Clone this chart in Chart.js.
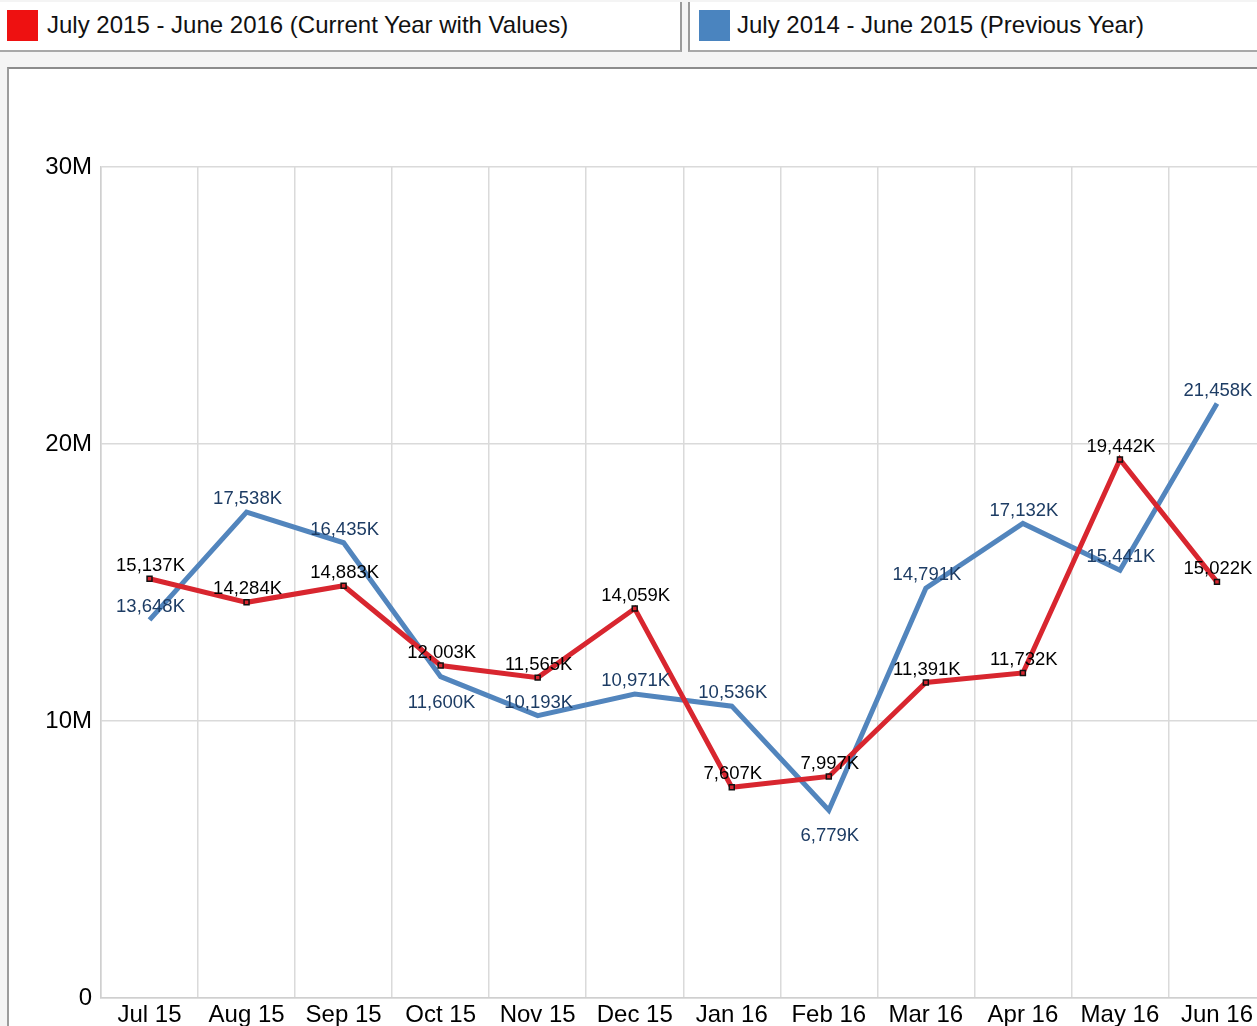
<!DOCTYPE html>
<html>
<head>
<meta charset="utf-8">
<title>Monthly totals</title>
<script src="https://cdn.jsdelivr.net/npm/chart.js@4"></script>
<style>
  html, body { margin: 0; padding: 0; overflow: hidden; background: #f4f4f4; }
  body { width: 1257px; height: 1026px; position: relative; font-family: "Liberation Sans", Arial, sans-serif; }
  .legend-item {
    position: absolute; top: 2px; height: 48px; background: #fff;
    border-right: 2px solid #9a9a9a; border-bottom: 2px solid #a8a8a8;
    box-sizing: content-box;
  }
  .legend-item .swatch { position: absolute; left: 7px; top: 8px; width: 31px; height: 31px; }
  .legend-item .text { position: absolute; left: 47px; top: 9px; font-size: 24px; color: #111; white-space: nowrap; }
  #lg1 { left: 0; width: 680px; }
  #lg2 { left: 688px; width: 580px; border-left: 2px solid #9a9a9a; border-right: none; }
  #lg2 .swatch { left: 9px; }
  #lg2 .text { left: 47px; }
  #panel {
    position: absolute; left: 7px; top: 67px; width: 1260px; height: 970px;
    background: #fff; border-top: 2px solid #8c8c8c; border-left: 2px solid #9c9c9c;
  }
  #wrap { position: absolute; left: 0; top: 0; width: 1271px; height: 1026px; }
</style>
</head>
<body>
<div id="lg1" class="legend-item"><div class="swatch" style="background:#ee1111"></div><div class="text">July 2015 - June 2016 (Current Year with Values)</div></div>
<div id="lg2" class="legend-item"><div class="swatch" style="background:#4a84bf"></div><div class="text">July 2014 - June 2015 (Previous Year)</div></div>
<div id="panel"></div>
<div id="wrap"><canvas id="lineChart"></canvas></div>
<script>
// Months on the x axis
const months = ["Jul 15", "Aug 15", "Sep 15", "Oct 15", "Nov 15", "Dec 15",
                "Jan 16", "Feb 16", "Mar 16", "Apr 16", "May 16", "Jun 16"];

// Values in thousands
const currentYear = [15137, 14284, 14883, 12003, 11565, 14059, 7607, 7997, 11391, 11732, 19442, 15022];
const previousYear = [13648, 17538, 16435, 11600, 10193, 10971, 10536, 6779, 14791, 17132, 15441, 21458];

const yTicks = [0, 10000, 20000, 30000];

const seriesNames = ["July 2015 - June 2016 (Current Year with Values)", "July 2014 - June 2015 (Previous Year)"];

const FONT = "'Liberation Sans', Arial, sans-serif";

// draws "15,137K" style labels next to each point
const pointLabels = {
  id: "pointLabels",
  afterDatasetsDraw(chart, args, opts) {
    const ctx = chart.ctx;
    ctx.save();
    ctx.font = "18.5px " + FONT;
    ctx.textAlign = "center";
    ctx.textBaseline = "middle";
    chart.data.datasets.forEach((ds, di) => {
      const meta = chart.getDatasetMeta(di);
      const below = (opts.below && opts.below[di]) || [];
      ctx.fillStyle = opts.colors[di];
      meta.data.forEach((pt, i) => {
        const text = ds.data[i].toLocaleString("en-US") + "K";
        const y = below.includes(i) ? pt.y + 26 : pt.y - 13;
        ctx.fillText(text, pt.x + 1, y);
      });
    });
    ctx.restore();
  }
};

const ctx = document.getElementById("lineChart").getContext("2d");

const lineChart = new Chart(ctx, {
  type: "line",
  data: {
    labels: months,
    datasets: [
      {
        label: seriesNames[0],
        data: currentYear,
        borderColor: "#d8262f",
        borderWidth: 5,
        pointStyle: "rect",
        pointRadius: 3.5,
        pointBackgroundColor: "#d8262f",
        pointBorderColor: "#111",
        pointBorderWidth: 1.5,
        tension: 0,
        fill: false,
      },
      {
        label: seriesNames[1],
        data: previousYear,
        borderColor: "#5285bd",
        borderWidth: 5,
        pointRadius: 0,
        tension: 0,
        fill: false,
      },
    ],
  },
  options: {
    responsive: true,
    maintainAspectRatio: false,
    animation: false,
    layout: { padding: { top: 167, left: 0, right: 0, bottom: 0 } },
    plugins: {
      legend: { display: false },
      tooltip: { enabled: false },
      pointLabels: { colors: ["#000000", "#1d3c64"], below: [[], [3, 7]] },
    },
    scales: {
      x: {
        offset: true,
        grid: { offset: true, color: "#dadada", lineWidth: 1.5, drawTicks: false },
        border: { color: "#cfcfcf", width: 1.5 },
        ticks: { color: "#000", font: { family: FONT, size: 24 }, padding: 3, maxRotation: 0, autoSkip: false },
        afterFit: (s) => { s.height = 28; },
      },
      y: {
        min: 0,
        max: 30000,
        afterBuildTicks: (s) => { s.ticks = yTicks.map((v) => ({ value: v })); },
        grid: { color: "#dadada", lineWidth: 1.5, drawTicks: false },
        border: { color: "#cfcfcf", width: 1.5 },
        ticks: {
          color: "#000",
          font: { family: FONT, size: 24 },
          padding: 9,
          callback: (v) => (v === 0 ? "0" : v / 1000 + "M"),
        },
        afterFit: (s) => { s.width = 101; },
      },
    },
  },
  plugins: [pointLabels],
});
</script>
</body>
</html>
